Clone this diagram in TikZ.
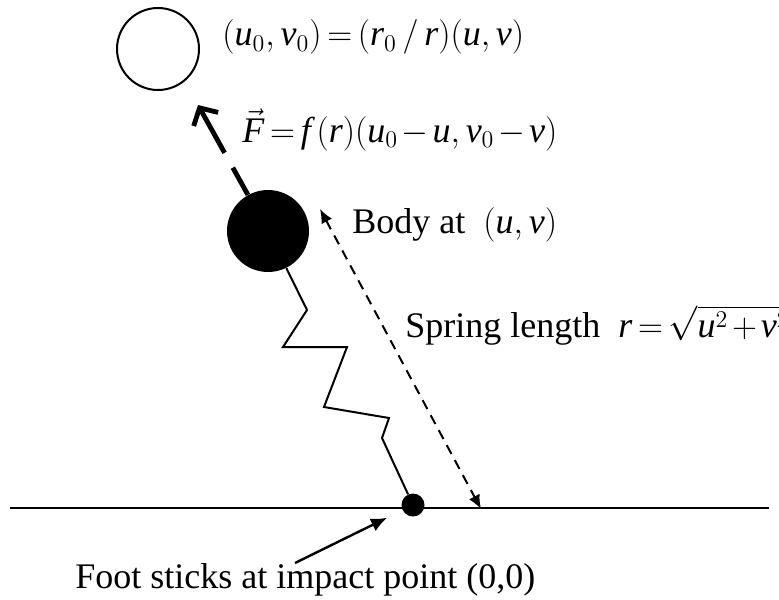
\documentclass[tikz,border=0pt]{standalone}
\usepackage{amsmath}
\usepackage{fontspec}
\setmainfont{Liberation Serif}
\usetikzlibrary{arrows.meta,positioning}

\newcommand{\mvar}[1]{\mathit{#1}}
\newcommand{\labelfont}{\fontsize{18}{21}\selectfont\thickmuskip=3mu\relax\medmuskip=2mu\relax}

\tikzset{
  mass/.style={circle, fill=black, inner sep=0pt},
  label text/.style={anchor=base west, inner sep=0pt, font=\labelfont},
  spring/.style={line width=1pt, line join=miter},
  force/.style={line width=2.4pt, dash pattern=on 15.5pt off 8.5pt on 40pt,
    -{Straight Barb[length=6.5pt,width=14pt,line width=2.4pt]}},
  gap/.style={line width=1pt, dash pattern=on 5pt off 3.5pt,
    {Latex[length=7pt,width=6pt]}-{Latex[length=7pt,width=6pt]}},
  pointer/.style={line width=1.2pt, -{Latex[length=8pt,width=7pt]}}
}

\begin{document}
\begin{tikzpicture}[x=0.5pt, y=-0.5pt]
  \useasboundingbox (0,0) rectangle (779,599);

  % ground and masses
  \coordinate (gl) at (10,508);
  \coordinate (gr) at (769,508);
  \draw[line width=1.3pt] (gl) -- (gr);

  \node[circle, draw, line width=1pt, minimum size=41pt, inner sep=0pt] (rest) at (158,49) {};
  \node[mass, minimum size=41pt] (body) at (268,231) {};
  \node[mass, minimum size=11.5pt] (foot) at (413,505) {};

  % spring
  \draw[spring] (body) -- (307,310) -- (283,347) -- (347,347) -- (324,407)
    -- (389,418) -- (382,438) -- (foot);

  % force on the body
  \coordinate (ftip) at (198,105);
  \draw[force] (body) -- (ftip);

  % spring length
  \coordinate (stop) at (320,209);
  \coordinate (sbot) at (481,509);
  \draw[gap] (stop) -- (sbot);

  % labels
  \node[label text] (restlabel) at (222,46)
    {$(\mvar{u}_0,\mvar{v}_0)=(\mvar{r}_0\,/\,\mvar{r})(\mvar{u},\mvar{v})$};
  \node[label text] (forcelabel) at (242,142)
    {$\vec{\mvar{F}}=\mvar{f}\,(\mvar{r})(\mvar{u}_0-\mvar{u},\mvar{v}_0-\mvar{v})$};
  \node[label text] (bodylabel) at (352,233)
    {Body at\ \ $(\mvar{u},\mvar{v})$};
  \node[label text] (springlabel) at (405,337)
    {Spring length\ \ $\mvar{r}=\sqrt{\mvar{u}^2+\mvar{v}^2}$};
  \node[label text] (footlabel) at (75,588)
    {Foot sticks at impact point (0,0)};

  \coordinate (ftail) at (295,563);
  \draw[pointer, shorten >=8.5pt] (ftail) -- (foot);
\end{tikzpicture}
\end{document}
